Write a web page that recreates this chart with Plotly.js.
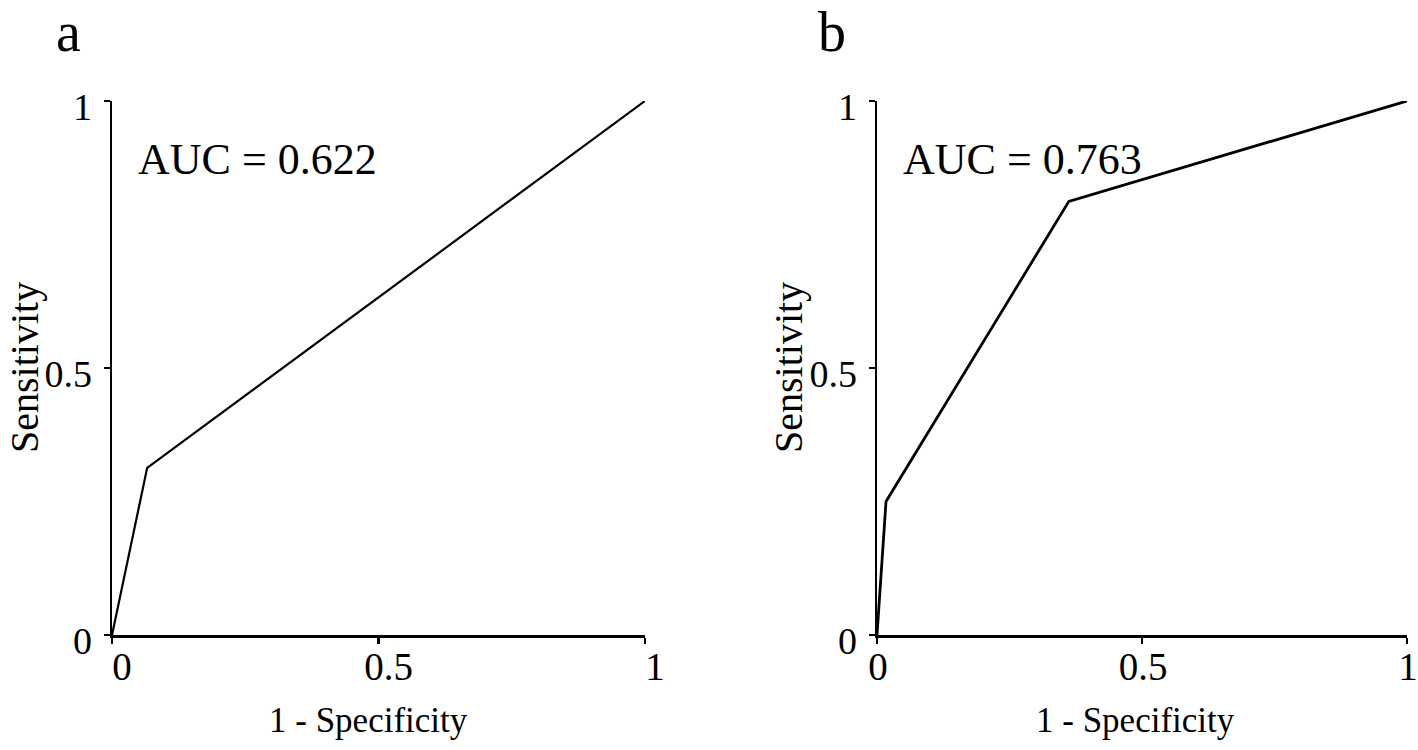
<!DOCTYPE html>
<html>
<head>
<meta charset="utf-8">
<script src="https://cdn.plot.ly/plotly-3.0.1.min.js"></script>
<style>html,body{margin:0;padding:0;background:#fff;}#chart{width:1418px;height:750px;}</style>
</head>
<body>
<div id="chart"></div>
<script>
// Panel a ROC curve
const fprA = [0, 0.066, 1];
const tprA = [0, 0.313, 1];
const aucA = "AUC = 0.622";
// Panel b ROC curve
const fprB = [0, 0.017, 0.362, 1];
const tprB = [0, 0.25, 0.812, 1];
const aucB = "AUC = 0.763";
const panelLabels = ["a", "b"];
const tickVals = [0, 0.5, 1];
const tickText = ["0", "0.5", "1"];
const xTitle = "1 - Specificity";
const yTitle = "Sensitivity";

const FONT = "Liberation Serif, Times New Roman, serif";
const W = 1418, H = 750;

function xaxis(domain, anchor, shift) {
  return {
    domain: domain, anchor: anchor, range: [0, 1],
    showgrid: false, zeroline: false, showline: true, linecolor: "#000", linewidth: 2.5,
    ticks: "outside", ticklen: 6, tickwidth: 2.5, tickcolor: "#000",
    tickvals: tickVals, ticktext: tickText, ticklabelshift: shift, ticklabelstandoff: -10,
    ticklabeloverflow: "allow",
    tickfont: {family: FONT, size: 39, color: "#000"},
    fixedrange: true
  };
}
function yaxis(domain, anchor) {
  return {
    domain: domain, anchor: anchor, range: [0, 1],
    showgrid: false, zeroline: false, showline: true, linecolor: "#000", linewidth: 2.5,
    ticks: "outside", ticklen: 6, tickwidth: 2.5, tickcolor: "#000",
    tickvals: tickVals, ticktext: tickText, ticklabelshift: 6, ticklabelstandoff: 4,
    ticklabeloverflow: "allow",
    tickfont: {family: FONT, size: 38, color: "#000"},
    fixedrange: true
  };
}

const yDom = [(H - 635) / H, (H - 101) / H];
const xDomA = [112 / W, 645 / W];
const xDomB = [877 / W, 1407 / W];
const titleFont = {family: FONT, size: 35, color: "#000"};
const layout = {
  width: W, height: H, autosize: false,
  margin: {l: 0, r: 0, t: 0, b: 0},
  paper_bgcolor: "#fff", plot_bgcolor: "rgba(0,0,0,0)",
  showlegend: false,
  xaxis: xaxis(xDomA, "y", 10),
  yaxis: yaxis(yDom, "x"),
  xaxis2: xaxis(xDomB, "y2", 1),
  yaxis2: yaxis(yDom, "x2"),
  annotations: [
    {xref: "x", yref: "y", x: 0.045, y: 0.89, xanchor: "left", yanchor: "middle", text: aucA, showarrow: false,
     font: {family: FONT, size: 44, color: "#000"}},
    {xref: "x2", yref: "y2", x: 0.045, y: 0.89, xanchor: "left", yanchor: "middle", text: aucB, showarrow: false,
     font: {family: FONT, size: 44, color: "#000"}},
    {xref: "paper", yref: "paper", x: 68 / W, y: 1, xanchor: "center", yanchor: "top", borderpad: 0, text: panelLabels[0], showarrow: false,
     font: {family: FONT, size: 56, color: "#000"}},
    {xref: "paper", yref: "paper", x: 832 / W, y: 1, xanchor: "center", yanchor: "top", borderpad: 0, text: panelLabels[1], showarrow: false,
     font: {family: FONT, size: 56, color: "#000"}},
    {xref: "paper", yref: "paper", x: 368 / W, y: 1 - 720 / H, xanchor: "center", yanchor: "middle", text: xTitle, showarrow: false, font: titleFont},
    {xref: "paper", yref: "paper", x: 1135 / W, y: 1 - 720 / H, xanchor: "center", yanchor: "middle", text: xTitle, showarrow: false, font: titleFont},
    {xref: "paper", yref: "y", x: 24 / W, y: 0.5, xanchor: "center", yanchor: "middle", textangle: -90, text: yTitle, showarrow: false,
     font: {family: FONT, size: 40, color: "#000"}},
    {xref: "paper", yref: "y2", x: 788 / W, y: 0.5, xanchor: "center", yanchor: "middle", textangle: -90, text: yTitle, showarrow: false,
     font: {family: FONT, size: 40, color: "#000"}}
  ]
};

const data = [
  {x: fprA, y: tprA, xaxis: "x", yaxis: "y", mode: "lines", line: {color: "#000", width: 2.2}, hoverinfo: "skip", cliponaxis: false},
  {x: fprB, y: tprB, xaxis: "x2", yaxis: "y2", mode: "lines", line: {color: "#000", width: 2.8}, hoverinfo: "skip", cliponaxis: false}
];

Plotly.newPlot("chart", data, layout, {displayModeBar: false, staticPlot: true});
</script>
</body>
</html>
